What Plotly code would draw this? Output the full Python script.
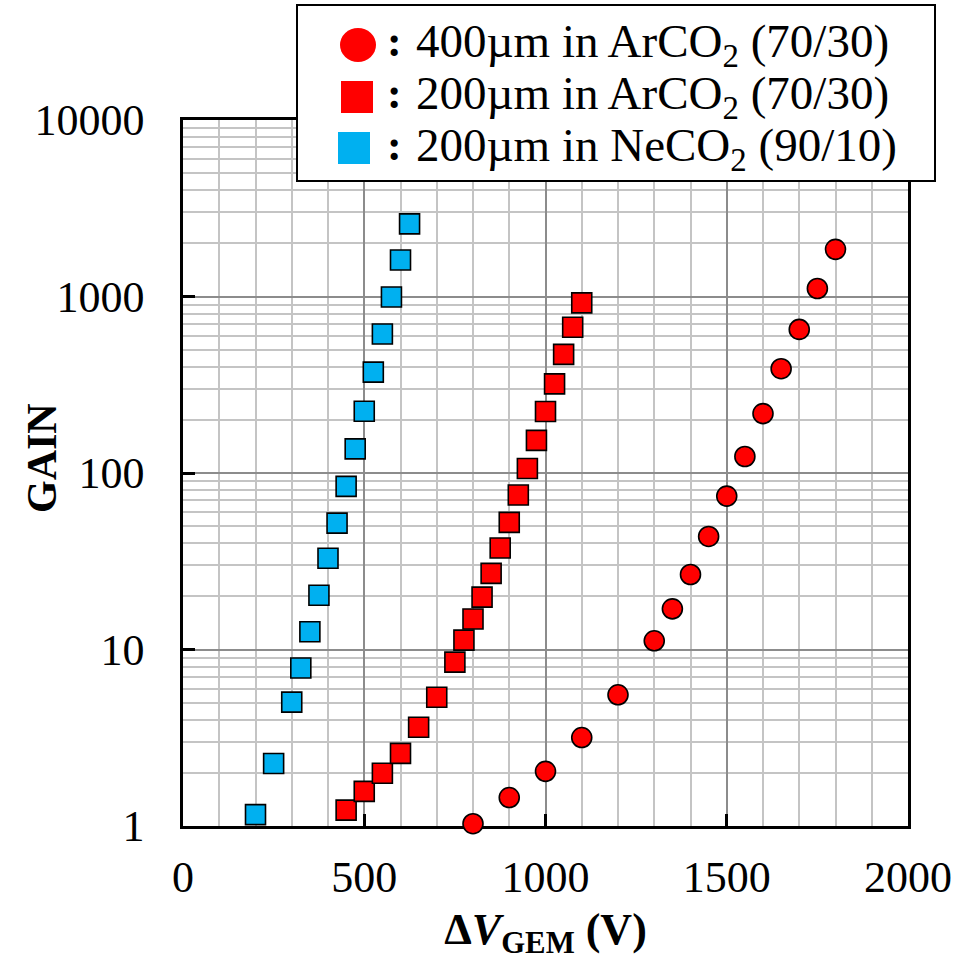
import plotly.graph_objects as go

# Gain curves vs GEM voltage
cyan_v = [200, 250, 300, 325, 350, 375, 400, 425, 450, 475, 500, 525, 550, 575, 600, 625]
cyan_gain = [1.16, 2.26, 5.03, 7.85, 12.6, 20.3, 32.9, 52, 84, 137, 224, 373, 613, 993, 1610, 2580]

sq_v = [450, 500, 550, 600, 650, 700, 750, 775, 800, 825, 850, 875, 900, 925, 950, 975,
        1000, 1025, 1050, 1075, 1100]
sq_gain = [1.23, 1.57, 1.99, 2.58, 3.63, 5.36, 8.48, 11.3, 14.9, 19.8, 27.0, 37.6, 52.5, 75,
           106, 153, 223, 320, 470, 670, 920]

circ_v = [800, 900, 1000, 1100, 1200, 1300, 1350, 1400, 1450, 1500, 1550, 1600, 1650, 1700,
          1750, 1800]
circ_gain = [1.03, 1.45, 2.04, 3.17, 5.54, 11.2, 17.0, 26.6, 43.7, 74, 124, 217, 390, 651,
             1110, 1850]

legend_labels = [
    "400µm in ArCO<sub>2</sub> (70/30)",
    "200µm in ArCO<sub>2</sub> (70/30)",
    "200µm in NeCO<sub>2</sub> (90/10)",
]

RED = "#FF0000"
CYAN = "#00B0F0"
SERIF = "Georgia, 'Liberation Serif', 'DejaVu Serif', serif"

W, H = 976, 960
L, R, T, B = 183, 68, 120, 134
PW, PH = W - L - R, H - T - B


def px(x):
    return (x - L) / PW


def py(y):
    return (H - B - y) / PH


fig = go.Figure()
for xs, ys, sym, col in [
    (circ_v, circ_gain, "circle", RED),
    (sq_v, sq_gain, "square", RED),
    (cyan_v, cyan_gain, "square", CYAN),
]:
    fig.add_trace(go.Scatter(
        x=xs, y=ys, mode="markers", showlegend=False, cliponaxis=False,
        marker=dict(symbol=sym, size=20, color=col, line=dict(color="black", width=1.6)),
    ))

grid_minor = "#C4C4C4"
grid_major = "#8C8C8C"

fig.update_xaxes(
    range=[0, 2000], tick0=0, dtick=500, showgrid=True, gridcolor=grid_major, gridwidth=2,
    minor=dict(dtick=100, showgrid=True, gridcolor=grid_minor, gridwidth=2),
    showline=True, linecolor="black", linewidth=2.5, mirror=True,
    ticks="inside", ticklen=12, tickwidth=2.5, tickcolor="black",
    tickfont=dict(family=SERIF, size=44, color="black"), ticklabelstandoff=10,
    zeroline=False, layer="below traces", automargin=False,
    title=dict(text="<b>Δ<i>V</i><sub>GEM</sub> (V)</b>",
               font=dict(family=SERIF, size=44, color="black"), standoff=16),
)
fig.update_yaxes(
    type="log", range=[0, 4], dtick=1, showgrid=True, gridcolor=grid_major, gridwidth=2,
    minor=dict(dtick="D1", showgrid=True, gridcolor=grid_minor, gridwidth=2),
    showline=True, linecolor="black", linewidth=2.5, mirror=True,
    ticks="inside", ticklen=12, tickwidth=2.5, tickcolor="black",
    tickvals=[1, 10, 100, 1000, 10000], ticktext=["1", "10", "100", "1000", "10000"],
    tickfont=dict(family=SERIF, size=44, color="black"), ticklabelstandoff=27,
    zeroline=False, layer="below traces", automargin=False,
)

# Legend box drawn above the plot area
shapes = [dict(type="rect", xref="paper", yref="paper",
               x0=px(297), x1=px(935), y0=py(181), y1=py(5),
               line=dict(color="black", width=2), fillcolor="white", layer="above")]
row_y = [45, 97, 148]
shapes.append(dict(type="circle", xref="paper", yref="paper",
                   x0=px(340), x1=px(376), y0=py(62), y1=py(28),
                   fillcolor=RED, line=dict(width=0), layer="above"))
shapes.append(dict(type="rect", xref="paper", yref="paper",
                   x0=px(341), x1=px(373), y0=py(113), y1=py(81),
                   fillcolor=RED, line=dict(width=0), layer="above"))
shapes.append(dict(type="rect", xref="paper", yref="paper",
                   x0=px(338), x1=px(370), y0=py(164), y1=py(132),
                   fillcolor=CYAN, line=dict(width=0), layer="above"))

annotations = []
for yy, lab in zip(row_y, legend_labels):
    annotations.append(dict(xref="paper", yref="paper", x=px(394), y=py(yy - 3), text="<b>:</b>",
                            showarrow=False, xanchor="center", yanchor="middle",
                            font=dict(family=SERIF, size=44, color="black")))
    annotations.append(dict(xref="paper", yref="paper", x=px(414), y=py(yy), text=lab,
                            showarrow=False, xanchor="left", yanchor="middle",
                            font=dict(family=SERIF, size=47, color="black")))

# Vertical axis title
annotations.append(dict(xref="paper", yref="paper", x=px(42), y=py(458), text="<b>GAIN</b>",
                        textangle=-90, showarrow=False, xanchor="center", yanchor="middle",
                        font=dict(family=SERIF, size=42, color="black")))

fig.update_layout(
    width=W, height=H, margin=dict(l=L, r=R, t=T, b=B, autoexpand=False),
    paper_bgcolor="white", plot_bgcolor="white",
    shapes=shapes, annotations=annotations, showlegend=False,
)

fig.write_html("out.html")
